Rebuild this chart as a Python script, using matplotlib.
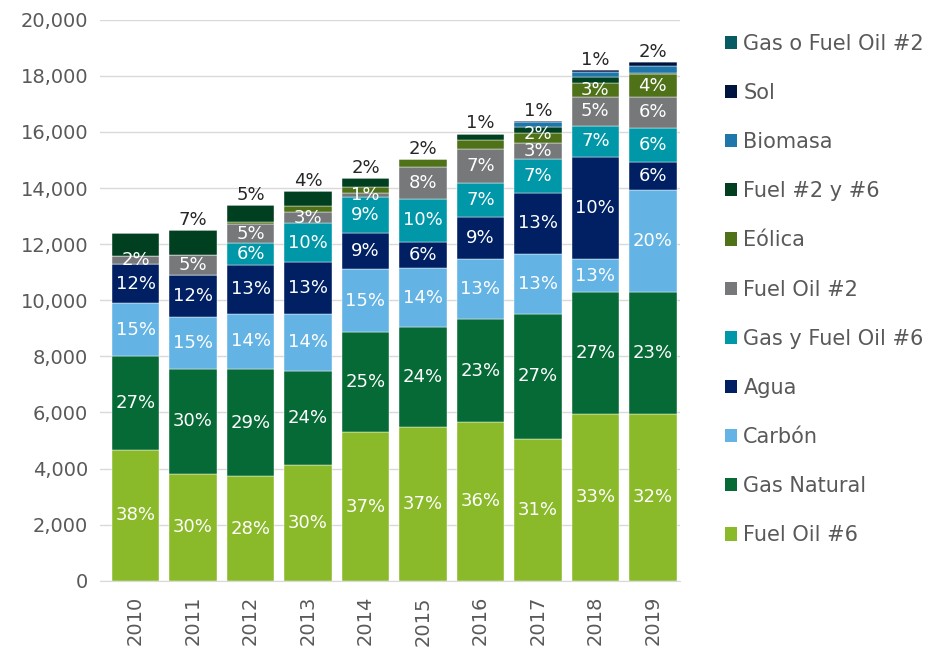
import matplotlib
matplotlib.use('Agg')
import matplotlib.pyplot as plt
import numpy as np
from matplotlib.patches import Patch

plt.rcParams['font.family'] = ['DejaVu Sans']

years = ['2010', '2011', '2012', '2013', '2014', '2015', '2016', '2017', '2018', '2019']

# valores por fuente (de abajo hacia arriba)
fuel_oil_6 = [4660, 3800, 3720, 4110, 5290, 5490, 5650, 5060, 5940, 5940]
gas_natural = [3350, 3760, 3830, 3370, 3590, 3540, 3680, 4460, 4340, 4340]
carbon = [1880, 1840, 1960, 2030, 2220, 2120, 2150, 2140, 1190, 3650]
agua = [1400, 1510, 1760, 1850, 1290, 940, 1500, 2170, 3650, 1010]
gas_fo6 = [0, 0, 760, 1380, 1280, 1510, 1190, 1200, 1100, 1210]
fuel_oil_2 = [290, 690, 680, 390, 160, 1160, 1210, 560, 1030, 1100]
eolica = [0, 0, 80, 240, 220, 260, 330, 380, 500, 810]
fuel_2y6 = [820, 890, 600, 520, 300, 0, 220, 220, 220, 50]
biomasa = [0, 0, 0, 0, 0, 0, 0, 170, 180, 240]
sol = [0, 0, 0, 0, 0, 0, 0, 20, 50, 140]
gas_fo2 = [0, 0, 0, 0, 0, 0, 0, 0, 0, 0]

# etiquetas tal como aparecen en el gráfico
lbl_fuel_oil_6 = ['38%', '30%', '28%', '30%', '37%', '37%', '36%', '31%', '33%', '32%']
lbl_gas_natural = ['27%', '30%', '29%', '24%', '25%', '24%', '23%', '27%', '27%', '23%']
lbl_carbon = ['15%', '15%', '14%', '14%', '15%', '14%', '13%', '13%', '13%', '20%']
lbl_agua = ['12%', '12%', '13%', '13%', '9%', '6%', '9%', '13%', '10%', '6%']
lbl_gas_fo6 = ['', '', '6%', '10%', '9%', '10%', '7%', '7%', '7%', '6%']
lbl_fuel_oil_2 = ['2%', '5%', '5%', '3%', '1%', '8%', '7%', '3%', '5%', '6%']
lbl_eolica = ['', '', '', '', '', '', '', '2%', '3%', '4%']
top_labels = ['', '7%', '5%', '4%', '2%', '2%', '1%', '1%', '1%', '2%']

series = [
    ('Fuel Oil #6', fuel_oil_6, lbl_fuel_oil_6, '#8aba29'),
    ('Gas Natural', gas_natural, lbl_gas_natural, '#066a37'),
    ('Carbón', carbon, lbl_carbon, '#63b3e4'),
    ('Agua', agua, lbl_agua, '#002063'),
    ('Gas y Fuel Oil #6', gas_fo6, lbl_gas_fo6, '#0098a8'),
    ('Fuel Oil #2', fuel_oil_2, lbl_fuel_oil_2, '#76787a'),
    ('Eólica', eolica, lbl_eolica, '#4f7219'),
    ('Fuel #2 y #6', fuel_2y6, None, '#003f20'),
    ('Biomasa', biomasa, None, '#1f76ab'),
    ('Sol', sol, None, '#001440'),
    ('Gas o Fuel Oil #2', gas_fo2, None, '#075c64'),
]

fig = plt.figure(figsize=(9.3, 6.49), dpi=100)
ax = fig.add_axes([0.1075, 0.1052, 0.6235, 0.8644])

x = np.arange(len(years))
bottom = np.zeros(len(years))
handles = []
for name, vals, lbls, color in series:
    vals = np.array(vals, dtype=float)
    ax.bar(x, vals, 0.83, bottom=bottom, color=color, edgecolor='#ffffff',
           linewidth=0.3, zorder=3)
    if lbls is not None:
        for i, t in enumerate(lbls):
            if t:
                y = bottom[i] + vals[i] / 2
                if name == 'Eólica' and i == 7:
                    y += 150  # como en el original, un poco más arriba
                ax.text(x[i], y, t, ha='center', va='center',
                        color='white', fontsize=13, zorder=4)
    bottom += vals
    handles.append(Patch(facecolor=color, label=name))

for i, t in enumerate(top_labels):
    if t:
        ax.text(x[i], bottom[i] + 50, t, ha='center', va='bottom',
                color='#262626', fontsize=13, zorder=4)

ax.set_ylim(0, 20000)
ax.set_xlim(-0.62, 9.47)
ax.set_yticks(np.arange(0, 20001, 2000))
ax.set_yticklabels([f'{v:,}' for v in range(0, 20001, 2000)])
ax.set_xticks(x)
ax.set_xticklabels(years, rotation=90)
ax.tick_params(axis='both', length=0, labelsize=14, colors='#595959')
ax.tick_params(axis='y', pad=8.5)
ax.tick_params(axis='x', pad=11)
ax.grid(axis='y', color='#d9d9d9', linewidth=1, zorder=0)
for s in ['left', 'right', 'top']:
    ax.spines[s].set_visible(False)
ax.spines['bottom'].set_color('#d9d9d9')

leg = fig.legend(handles=handles[::-1], loc='upper left', bbox_to_anchor=(0.759, 0.977),
                 frameon=False, fontsize=15, handlelength=0.6, handleheight=0.6,
                 handletextpad=0.3, labelspacing=1.40)
for t in leg.get_texts():
    t.set_color('#595959')

fig.savefig('out.png', dpi=100)
